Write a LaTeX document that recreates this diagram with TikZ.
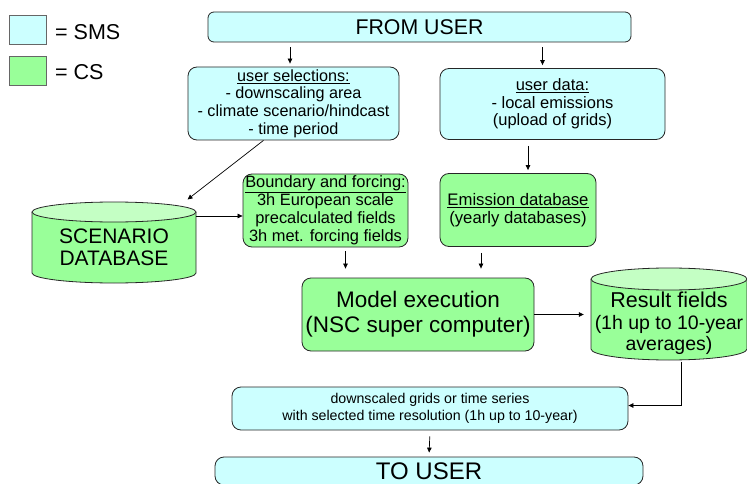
\documentclass[tikz,border=0pt]{standalone}
\usepackage{fontspec}
\setmainfont{Liberation Sans}
\usetikzlibrary{arrows.meta}
\definecolor{smsfill}{HTML}{CCFFFF}
\definecolor{csfill}{HTML}{99FF99}
\definecolor{cstop}{HTML}{C4FFC4}
\tikzset{
    box/.style={draw=black!85, line width=0.8pt, rounded corners=9pt, align=center, inner sep=0pt},
    smsbox/.style={box, fill=smsfill},
    csbox/.style={box, fill=csfill},
    arr/.style={line width=0.7pt, -{Triangle[length=5pt,width=4.5pt]}}
}
\begin{document}
\begin{tikzpicture}[x=1pt,y=-1pt]
                \useasboundingbox (0,0) rectangle (747,484);

                \draw[draw=black!60, fill=smsfill] (9,15) rectangle (46,44);
                \draw[draw=black!60, fill=csfill] (9,56) rectangle (46,85);
                \node[anchor=west, inner sep=0pt, font=\fontsize{21.5}{24}\selectfont] (lsms) at (55,32) {= SMS};
                \node[anchor=west, inner sep=0pt, font=\fontsize{21.5}{24}\selectfont] (lcs) at (55,72) {= CS};

                \draw[line width=0.8pt, draw=black!85, fill=csfill] (32,212) -- (32,273) arc[start angle=180, end angle=0, x radius=82, y radius=10] -- (196,212);
                \draw[line width=0.8pt, draw=black!85, fill=cstop] (114,212) ellipse[x radius=82, y radius=10];
                \draw[line width=0.8pt, draw=black!85, fill=csfill] (591,279) -- (591,349) arc[start angle=180, end angle=0, x radius=78, y radius=11] -- (747,279);
                \draw[line width=0.8pt, draw=black!85, fill=cstop] (669,279) ellipse[x radius=78, y radius=11];

                \node[smsbox, rounded corners=6pt, minimum width=423, minimum height=30, font=\fontsize{21.3}{24}\selectfont] (fromuser) at (419.5,27) {FROM USER};
                \node[smsbox, minimum width=211, minimum height=73, font=\fontsize{16.2}{17.6}\selectfont] (sel) at (293.5,103.5) {\underline{user selections:}\\- downscaling area\\- climate scenario/hindcast\\- time period};
                \node[smsbox, minimum width=225, minimum height=71, font=\fontsize{16.5}{17.5}\selectfont] (data) at (552.5,104) {\underline{user data:}\\- local emissions\\(upload of grids)};
                \node[csbox, minimum width=165, minimum height=73, font=\fontsize{16.4}{18}\selectfont] (bound) at (325.5,210.5) {\underline{Boundary and forcing:}\\3h European scale\\precalculated fields\\3h met. forcing fields};
                \node[csbox, minimum width=156, minimum height=73, font=\fontsize{16.7}{18}\selectfont] (emis) at (518,210) {\underline{Emission database}\\(yearly databases)};
                \node[inner sep=0pt, minimum width=164, minimum height=86, align=center, font=\fontsize{21}{22}\selectfont] (scenario) at (114,247) {SCENARIO\\DATABASE};
                \node[csbox, minimum width=232, minimum height=73, font=\fontsize{22.5}{25}\selectfont] (model) at (418,314.5) {Model execution\\(NSC super computer)};
                \node[inner sep=0pt, minimum width=156, minimum height=76, align=center, font=\fontsize{19.5}{21.5}\selectfont] (result) at (669,323.5) {{\fontsize{21.5}{21.5}\selectfont Result fields}\\(1h up to 10-year\\averages)};
                \node[smsbox, minimum width=396, minimum height=43, font=\fontsize{14.2}{17}\selectfont] (down) at (430,408.5) {downscaled grids or time series\\with selected time resolution (1h up to 10-year)};
                \node[smsbox, minimum width=428, minimum height=28, font=\fontsize{24}{26}\selectfont] (touser) at (429,471) {TO USER};

                \draw[arr, shorten <=5pt, shorten >=3pt] (fromuser.south -| 290,0) -- (sel.north -| 290,0);
                \draw[arr, shorten <=5pt, shorten >=3pt] ([xshift=-10pt]data.north |- fromuser.south) -- ([xshift=-10pt]data.north);
                \draw[arr, shorten <=6pt, shorten >=3pt] ([xshift=10pt]emis.north |- data.south) -- ([xshift=10pt]emis.north);
                \draw[arr, shorten >=7pt] ([xshift=-30pt]sel.south) -- ([xshift=68pt]scenario.north);
                \draw[arr] (scenario.east |- 0,216) -- (bound.west |- 0,216);
                \draw[arr, shorten <=4pt, shorten >=9pt] ([xshift=20pt]bound.south) -- ([xshift=20pt]bound.south |- model.north);
                \draw[arr, shorten <=6pt, shorten >=9pt] ([xshift=-37pt]emis.south) -- ([xshift=-37pt]emis.south |- model.north);
                \draw[arr, shorten >=7pt] (model.east) -- (model.east -| result.west);
                \draw[arr] ([xshift=12pt]result.south) |- ([yshift=3pt]down.east);
                \draw[arr, shorten <=6pt, shorten >=4pt] (down.south) -- (touser.north);
\end{tikzpicture}
\end{document}
